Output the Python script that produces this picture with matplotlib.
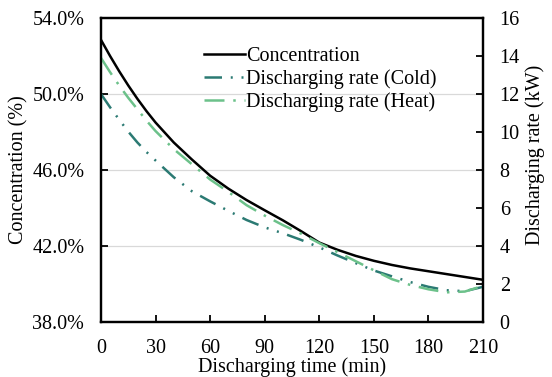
import matplotlib
matplotlib.use("Agg")
import matplotlib.pyplot as plt
from matplotlib.ticker import FuncFormatter

plt.rcParams['font.family'] = ['Liberation Serif', 'DejaVu Serif']
plt.rcParams['font.size'] = 14.5

time_min = [0, 5, 10, 15, 20, 25, 30, 40, 50, 60, 70, 80, 90, 100, 110, 120, 130, 140,
            150, 160, 170, 180, 190, 200, 210]
concentration = [52.85, 52.0, 51.2, 50.45, 49.75, 49.1, 48.5, 47.45, 46.55, 45.7, 45.02,
                 44.42, 43.88, 43.35, 42.78, 42.18, 41.8, 41.48, 41.22, 41.0, 40.82, 40.67,
                 40.52, 40.37, 40.22]
rate_cold = [12.0, 11.3, 10.65, 10.02, 9.45, 8.95, 8.5, 7.62, 6.88, 6.35, 5.85, 5.37, 4.98,
             4.67, 4.32, 3.93, 3.5, 3.1, 2.71, 2.4, 2.1, 1.85, 1.67, 1.62, 1.85]
rate_heat = [13.9, 13.15, 12.45, 11.8, 11.2, 10.6, 10.05, 9.1, 8.3, 7.5, 6.85, 6.15, 5.6,
             5.1, 4.65, 4.15, 3.68, 3.2, 2.72, 2.25, 1.95, 1.72, 1.56, 1.6, 1.9]

left_ticks = [38, 42, 46, 50, 54]
right_ticks = [0, 2, 4, 6, 8, 10, 12, 14, 16]
x_ticks = [0, 30, 60, 90, 120, 150, 180, 210]

fig = plt.figure(figsize=(5.52, 3.77), dpi=100)
ax = fig.add_axes([0.183, 0.146, 0.692, 0.806])
ax2 = ax.twinx()

for a in (ax, ax2):
    for s in a.spines.values():
        s.set_linewidth(1.6)
        s.set_color('black')

ax.set_xlim(0, 210)
ax.set_ylim(38, 54)
ax2.set_ylim(0, 16)
ax.set_xticks(x_ticks)
ax.set_yticks(left_ticks)
ax2.set_yticks(right_ticks)
ax.yaxis.set_major_formatter(FuncFormatter(lambda v, p: f"{v:.1f}%"))
ax.grid(axis='y', color='#d9d9d9', linewidth=0.9)
ax.set_axisbelow(True)

ax.tick_params(direction='in', length=5, width=1.3, labelsize=14.5, pad=12)
ax2.tick_params(direction='in', length=5, width=1.3, labelsize=14.5, pad=12)

l1, = ax.plot(time_min, concentration, color='black', lw=1.8, label='Concentration')
l2, = ax2.plot(time_min, rate_cold, color='#2b7a73', lw=1.8,
               linestyle=(0, (7, 3.5, 0.8, 3.5, 0.8, 3.5)), label='Discharging rate (Cold)')
l3, = ax2.plot(time_min, rate_heat, color='#6cc18a', lw=1.8,
               linestyle=(0, (8, 3.5, 1, 3.5)), label='Discharging rate (Heat)')

ax.set_xlabel('Discharging time (min)', fontsize=14.5, labelpad=0)
ax.set_ylabel('Concentration (%)', fontsize=14.5, labelpad=3)
ax2.set_ylabel('Discharging rate (kW)', fontsize=14.5)
ax2.yaxis.set_label_coords(1.11, 0.549)

ax2.legend(handles=[l1, l2, l3], loc='upper left', bbox_to_anchor=(0.27, 0.904),
           frameon=False, fontsize=14.5, handlelength=2.05, handletextpad=0.05,
           labelspacing=0.15, borderaxespad=0, borderpad=0)

fig.savefig('out.png', dpi=100)
